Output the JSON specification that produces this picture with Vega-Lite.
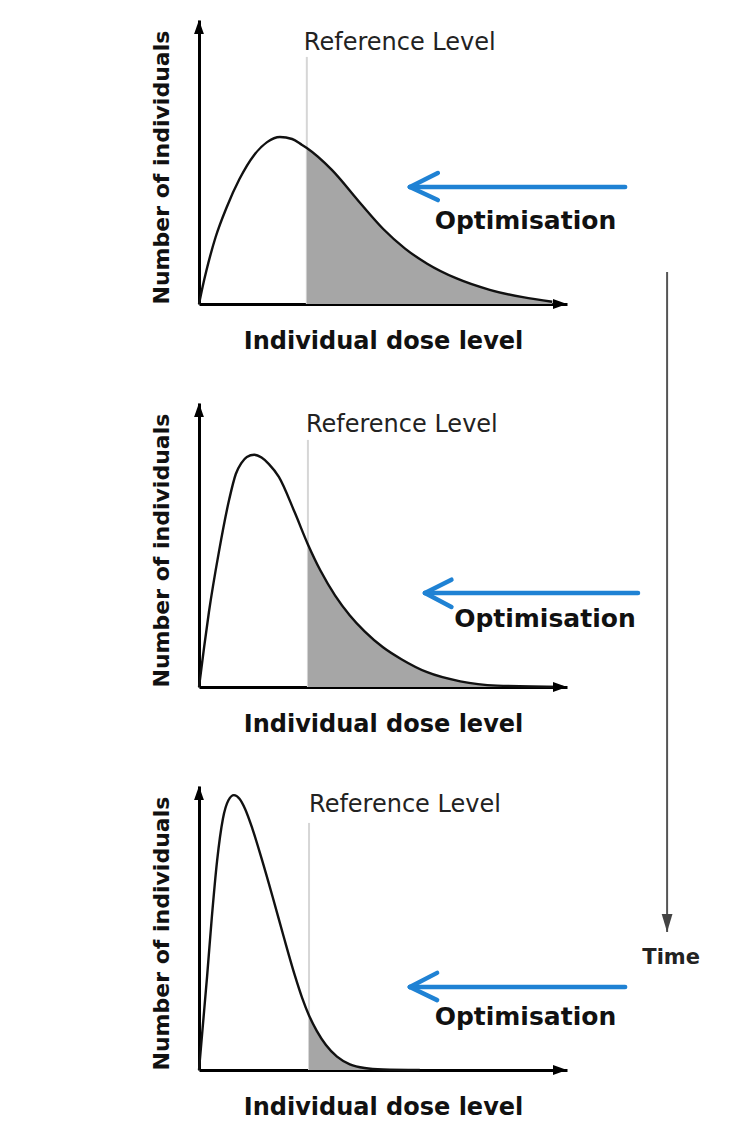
{
  "$schema": "https://vega.github.io/schema/vega-lite/v6.json",
  "autosize": {"type": "pad"},
  "padding": {"left": 150, "top": 20, "right": 38, "bottom": 0},
  "background": "#ffffff",
  "spacing": 99,
  "bounds": "flush",
  "config": {
    "view": {"stroke": null},
    "axis": {"ticks": false, "labels": false, "grid": false, "domainColor": "#000000", "domainWidth": 3, "titleColor": "#111111", "titleFont": "DejaVu Sans", "titleFontWeight": "bold"},
    "axisX": {"titleFontSize": 24, "titlePadding": 25},
    "axisY": {"titleFontSize": 22, "titlePadding": 26, "titleAnchor": "start"}
  },
  "datasets": {
    "curve1": [
      {"dose": 0, "count": 0}, {"dose": 0.1, "count": 0.62}, {"dose": 0.2, "count": 1.17}, {"dose": 0.45, "count": 2.35}, {"dose": 0.75, "count": 3.4},
      {"dose": 1.1, "count": 4.4}, {"dose": 1.5, "count": 5.25}, {"dose": 1.85, "count": 5.7}, {"dose": 2.2, "count": 5.88},
      {"dose": 2.53, "count": 5.81}, {"dose": 2.8, "count": 5.6}, {"dose": 2.93, "count": 5.49}, {"dose": 3.61, "count": 4.72},
      {"dose": 4.35, "count": 3.6}, {"dose": 5.0, "count": 2.65}, {"dose": 5.6, "count": 1.95}, {"dose": 6.2, "count": 1.42},
      {"dose": 7.0, "count": 0.9}, {"dose": 7.9, "count": 0.5}, {"dose": 8.8, "count": 0.24}, {"dose": 9.6, "count": 0.08}
    ],
    "curve2": [
      {"dose": 0, "count": 0}, {"dose": 0.14, "count": 1.41}, {"dose": 0.27, "count": 2.64}, {"dose": 0.54, "count": 4.75},
      {"dose": 0.82, "count": 6.6}, {"dose": 1.0, "count": 7.5}, {"dose": 1.15, "count": 7.88}, {"dose": 1.3, "count": 8.1},
      {"dose": 1.5, "count": 8.18}, {"dose": 1.7, "count": 8.08}, {"dose": 1.9, "count": 7.85}, {"dose": 2.17, "count": 7.4},
      {"dose": 2.6, "count": 6.15}, {"dose": 2.96, "count": 5.02},
      {"dose": 3.3, "count": 4.1}, {"dose": 3.7, "count": 3.22}, {"dose": 4.1, "count": 2.52}, {"dose": 4.5, "count": 1.96},
      {"dose": 5.0, "count": 1.4}, {"dose": 5.5, "count": 0.98}, {"dose": 6.2, "count": 0.52}, {"dose": 7.1, "count": 0.2},
      {"dose": 8.1, "count": 0.05}, {"dose": 9.9, "count": 0}
    ],
    "curve3": [
      {"dose": 0, "count": 0}, {"dose": 0.1, "count": 1.5}, {"dose": 0.22, "count": 3.3}, {"dose": 0.35, "count": 5.4},
      {"dose": 0.49, "count": 7.35}, {"dose": 0.65, "count": 8.85}, {"dose": 0.8, "count": 9.5}, {"dose": 0.95, "count": 9.68},
      {"dose": 1.1, "count": 9.55}, {"dose": 1.25, "count": 9.2}, {"dose": 1.45, "count": 8.5}, {"dose": 1.7, "count": 7.45},
      {"dose": 2.0, "count": 6.1}, {"dose": 2.3, "count": 4.7}, {"dose": 2.6, "count": 3.35}, {"dose": 2.8, "count": 2.55},
      {"dose": 2.99, "count": 1.92}, {"dose": 3.2, "count": 1.38}, {"dose": 3.45, "count": 0.88}, {"dose": 3.75, "count": 0.47},
      {"dose": 4.1, "count": 0.2}, {"dose": 4.5, "count": 0.07}, {"dose": 5.0, "count": 0.02}, {"dose": 6.0, "count": 0}
    ],
    "ref1": [{"ref": 2.93, "label": "Reference Level"}],
    "ref2": [{"ref": 2.96, "label": "Reference Level"}],
    "ref3": [{"ref": 2.99, "label": "Reference Level"}]
  },
  "vconcat": [
    {
      "width": 368, "height": 284,
      "layer": [
        {"data": {"name": "ref1"}, "mark": {"type": "rule", "color": "#d6d6d6", "strokeWidth": 2},
         "encoding": {"x": {"field": "ref", "type": "quantitative", "scale": {"domain": [0, 10]}},
                      "y": {"datum": 0, "type": "quantitative", "scale": {"domain": [0, 10]}}, "y2": {"datum": 8.7}}},
        {"data": {"name": "curve1"}, "transform": [{"filter": "datum.dose >= 2.93"}],
         "mark": {"type": "area", "interpolate": "monotone", "color": "#a6a6a6", "opacity": 1},
         "encoding": {"x": {"field": "dose", "type": "quantitative", "scale": {"domain": [0, 10]}},
                      "y": {"field": "count", "type": "quantitative", "scale": {"domain": [0, 10]}}}},
        {"data": {"name": "curve1"}, "mark": {"type": "line", "interpolate": "monotone", "color": "#111111", "strokeWidth": 2.4},
         "encoding": {"x": {"field": "dose", "type": "quantitative", "scale": {"domain": [0, 10]}, "title": "Individual dose level"},
                      "y": {"field": "count", "type": "quantitative", "scale": {"domain": [0, 10]}, "title": "Number of individuals"}}},
        {"data": {"name": "ref1"}, "mark": {"type": "text", "align": "left", "baseline": "middle", "dx": -3, "font": "DejaVu Sans", "fontSize": 24, "color": "#222222"},
         "encoding": {"x": {"field": "ref", "type": "quantitative", "scale": {"domain": [0, 10]}},
                      "y": {"datum": 9.19, "type": "quantitative", "scale": {"domain": [0, 10]}}, "text": {"field": "label"}}},
        {"data": {"values": [{}]}, "mark": {"type": "point", "shape": "M0,0L0.35,1L-0.35,1Z", "filled": true, "color": "#000000", "size": 784, "opacity": 1},
         "encoding": {"x": {"datum": 0, "type": "quantitative", "scale": {"domain": [0, 10]}}, "y": {"datum": 10, "type": "quantitative", "scale": {"domain": [0, 10]}}}},
        {"data": {"values": [{}]}, "mark": {"type": "point", "shape": "M0,0L-1,-0.35L-1,0.35Z", "filled": true, "color": "#000000", "size": 784, "opacity": 1},
         "encoding": {"x": {"datum": 10, "type": "quantitative", "scale": {"domain": [0, 10]}}, "y": {"datum": 0, "type": "quantitative", "scale": {"domain": [0, 10]}}}},
        {"data": {"values": [{}]}, "mark": {"type": "rule", "color": "#1f82d4", "strokeWidth": 4.5, "strokeCap": "round"},
         "encoding": {"x": {"datum": 5.73, "type": "quantitative", "scale": {"domain": [0, 10]}}, "x2": {"datum": 11.58},
                      "y": {"datum": 4.12, "type": "quantitative", "scale": {"domain": [0, 10]}}}},
        {"data": {"values": [{}]}, "mark": {"type": "rule", "color": "#1f82d4", "strokeWidth": 4.5, "strokeCap": "round"},
         "encoding": {"x": {"datum": 5.73, "type": "quantitative", "scale": {"domain": [0, 10]}}, "x2": {"datum": 6.49},
                      "y": {"datum": 4.12, "type": "quantitative", "scale": {"domain": [0, 10]}}, "y2": {"datum": 4.61}}},
        {"data": {"values": [{}]}, "mark": {"type": "rule", "color": "#1f82d4", "strokeWidth": 4.5, "strokeCap": "round"},
         "encoding": {"x": {"datum": 5.73, "type": "quantitative", "scale": {"domain": [0, 10]}}, "x2": {"datum": 6.49},
                      "y": {"datum": 4.12, "type": "quantitative", "scale": {"domain": [0, 10]}}, "y2": {"datum": 3.66}}},
        {"data": {"values": [{}]}, "mark": {"type": "text", "text": "Optimisation", "font": "DejaVu Sans", "fontWeight": "bold", "fontSize": 25, "color": "#111111", "align": "center", "baseline": "middle"},
         "encoding": {"x": {"datum": 8.87, "type": "quantitative", "scale": {"domain": [0, 10]}}, "y": {"datum": 2.92, "type": "quantitative", "scale": {"domain": [0, 10]}}}}
      ]
    },
    {
      "width": 368, "height": 284,
      "layer": [
        {"data": {"name": "ref2"}, "mark": {"type": "rule", "color": "#d6d6d6", "strokeWidth": 2},
         "encoding": {"x": {"field": "ref", "type": "quantitative", "scale": {"domain": [0, 10]}},
                      "y": {"datum": 0, "type": "quantitative", "scale": {"domain": [0, 10]}}, "y2": {"datum": 8.7}}},
        {"data": {"name": "curve2"}, "transform": [{"filter": "datum.dose >= 2.96"}],
         "mark": {"type": "area", "interpolate": "monotone", "color": "#a6a6a6", "opacity": 1},
         "encoding": {"x": {"field": "dose", "type": "quantitative", "scale": {"domain": [0, 10]}},
                      "y": {"field": "count", "type": "quantitative", "scale": {"domain": [0, 10]}}}},
        {"data": {"name": "curve2"}, "mark": {"type": "line", "interpolate": "monotone", "color": "#111111", "strokeWidth": 2.4},
         "encoding": {"x": {"field": "dose", "type": "quantitative", "scale": {"domain": [0, 10]}, "title": "Individual dose level"},
                      "y": {"field": "count", "type": "quantitative", "scale": {"domain": [0, 10]}, "title": "Number of individuals"}}},
        {"data": {"name": "ref2"}, "mark": {"type": "text", "align": "left", "baseline": "middle", "dx": -2, "font": "DejaVu Sans", "fontSize": 24, "color": "#222222"},
         "encoding": {"x": {"field": "ref", "type": "quantitative", "scale": {"domain": [0, 10]}},
                      "y": {"datum": 9.23, "type": "quantitative", "scale": {"domain": [0, 10]}}, "text": {"field": "label"}}},
        {"data": {"values": [{}]}, "mark": {"type": "point", "shape": "M0,0L0.35,1L-0.35,1Z", "filled": true, "color": "#000000", "size": 784, "opacity": 1},
         "encoding": {"x": {"datum": 0, "type": "quantitative", "scale": {"domain": [0, 10]}}, "y": {"datum": 10, "type": "quantitative", "scale": {"domain": [0, 10]}}}},
        {"data": {"values": [{}]}, "mark": {"type": "point", "shape": "M0,0L-1,-0.35L-1,0.35Z", "filled": true, "color": "#000000", "size": 784, "opacity": 1},
         "encoding": {"x": {"datum": 10, "type": "quantitative", "scale": {"domain": [0, 10]}}, "y": {"datum": 0, "type": "quantitative", "scale": {"domain": [0, 10]}}}},
        {"data": {"values": [{}]}, "mark": {"type": "rule", "color": "#1f82d4", "strokeWidth": 4.5, "strokeCap": "round"},
         "encoding": {"x": {"datum": 6.14, "type": "quantitative", "scale": {"domain": [0, 10]}}, "x2": {"datum": 11.93},
                      "y": {"datum": 3.31, "type": "quantitative", "scale": {"domain": [0, 10]}}}},
        {"data": {"values": [{}]}, "mark": {"type": "rule", "color": "#1f82d4", "strokeWidth": 4.5, "strokeCap": "round"},
         "encoding": {"x": {"datum": 6.14, "type": "quantitative", "scale": {"domain": [0, 10]}}, "x2": {"datum": 6.86},
                      "y": {"datum": 3.31, "type": "quantitative", "scale": {"domain": [0, 10]}}, "y2": {"datum": 3.78}}},
        {"data": {"values": [{}]}, "mark": {"type": "rule", "color": "#1f82d4", "strokeWidth": 4.5, "strokeCap": "round"},
         "encoding": {"x": {"datum": 6.14, "type": "quantitative", "scale": {"domain": [0, 10]}}, "x2": {"datum": 6.86},
                      "y": {"datum": 3.31, "type": "quantitative", "scale": {"domain": [0, 10]}}, "y2": {"datum": 2.82}}},
        {"data": {"values": [{}]}, "mark": {"type": "text", "text": "Optimisation", "font": "DejaVu Sans", "fontWeight": "bold", "fontSize": 25, "color": "#111111", "align": "center", "baseline": "middle"},
         "encoding": {"x": {"datum": 9.4, "type": "quantitative", "scale": {"domain": [0, 10]}}, "y": {"datum": 2.39, "type": "quantitative", "scale": {"domain": [0, 10]}}}}
      ]
    },
    {
      "width": 368, "height": 284,
      "layer": [
        {"data": {"name": "ref3"}, "mark": {"type": "rule", "color": "#d6d6d6", "strokeWidth": 2},
         "encoding": {"x": {"field": "ref", "type": "quantitative", "scale": {"domain": [0, 10]}},
                      "y": {"datum": 0, "type": "quantitative", "scale": {"domain": [0, 10]}}, "y2": {"datum": 8.7}}},
        {"data": {"name": "curve3"}, "transform": [{"filter": "datum.dose >= 2.99"}],
         "mark": {"type": "area", "interpolate": "monotone", "color": "#a6a6a6", "opacity": 1},
         "encoding": {"x": {"field": "dose", "type": "quantitative", "scale": {"domain": [0, 10]}},
                      "y": {"field": "count", "type": "quantitative", "scale": {"domain": [0, 10]}}}},
        {"data": {"name": "curve3"}, "mark": {"type": "line", "interpolate": "monotone", "color": "#111111", "strokeWidth": 2.4},
         "encoding": {"x": {"field": "dose", "type": "quantitative", "scale": {"domain": [0, 10]}, "title": "Individual dose level"},
                      "y": {"field": "count", "type": "quantitative", "scale": {"domain": [0, 10]}, "title": "Number of individuals"}}},
        {"data": {"name": "ref3"}, "mark": {"type": "text", "align": "left", "baseline": "middle", "dx": 0, "font": "DejaVu Sans", "fontSize": 24, "color": "#222222"},
         "encoding": {"x": {"field": "ref", "type": "quantitative", "scale": {"domain": [0, 10]}},
                      "y": {"datum": 9.33, "type": "quantitative", "scale": {"domain": [0, 10]}}, "text": {"field": "label"}}},
        {"data": {"values": [{}]}, "mark": {"type": "point", "shape": "M0,0L0.35,1L-0.35,1Z", "filled": true, "color": "#000000", "size": 784, "opacity": 1},
         "encoding": {"x": {"datum": 0, "type": "quantitative", "scale": {"domain": [0, 10]}}, "y": {"datum": 10, "type": "quantitative", "scale": {"domain": [0, 10]}}}},
        {"data": {"values": [{}]}, "mark": {"type": "point", "shape": "M0,0L-1,-0.35L-1,0.35Z", "filled": true, "color": "#000000", "size": 784, "opacity": 1},
         "encoding": {"x": {"datum": 10, "type": "quantitative", "scale": {"domain": [0, 10]}}, "y": {"datum": 0, "type": "quantitative", "scale": {"domain": [0, 10]}}}},
        {"data": {"values": [{}]}, "mark": {"type": "rule", "color": "#1f82d4", "strokeWidth": 4.5, "strokeCap": "round"},
         "encoding": {"x": {"datum": 5.73, "type": "quantitative", "scale": {"domain": [0, 10]}}, "x2": {"datum": 11.58},
                      "y": {"datum": 2.92, "type": "quantitative", "scale": {"domain": [0, 10]}}}},
        {"data": {"values": [{}]}, "mark": {"type": "rule", "color": "#1f82d4", "strokeWidth": 4.5, "strokeCap": "round"},
         "encoding": {"x": {"datum": 5.73, "type": "quantitative", "scale": {"domain": [0, 10]}}, "x2": {"datum": 6.47},
                      "y": {"datum": 2.92, "type": "quantitative", "scale": {"domain": [0, 10]}}, "y2": {"datum": 3.42}}},
        {"data": {"values": [{}]}, "mark": {"type": "rule", "color": "#1f82d4", "strokeWidth": 4.5, "strokeCap": "round"},
         "encoding": {"x": {"datum": 5.73, "type": "quantitative", "scale": {"domain": [0, 10]}}, "x2": {"datum": 6.47},
                      "y": {"datum": 2.92, "type": "quantitative", "scale": {"domain": [0, 10]}}, "y2": {"datum": 2.46}}},
        {"data": {"values": [{}]}, "mark": {"type": "text", "text": "Optimisation", "font": "DejaVu Sans", "fontWeight": "bold", "fontSize": 25, "color": "#111111", "align": "center", "baseline": "middle"},
         "encoding": {"x": {"datum": 8.87, "type": "quantitative", "scale": {"domain": [0, 10]}}, "y": {"datum": 1.87, "type": "quantitative", "scale": {"domain": [0, 10]}}}},
        {"data": {"values": [{}]}, "mark": {"type": "rule", "color": "#555555", "strokeWidth": 2},
         "encoding": {"x": {"datum": 12.72, "type": "quantitative", "scale": {"domain": [0, 10]}},
                      "y": {"datum": 28.1, "type": "quantitative", "scale": {"domain": [0, 10]}}, "y2": {"datum": 4.86}}},
        {"data": {"values": [{}]}, "mark": {"type": "point", "shape": "M0,0L-0.3,-1L0.3,-1Z", "filled": true, "color": "#444444", "size": 1296, "opacity": 1},
         "encoding": {"x": {"datum": 12.72, "type": "quantitative", "scale": {"domain": [0, 10]}}, "y": {"datum": 4.86, "type": "quantitative", "scale": {"domain": [0, 10]}}}},
        {"data": {"values": [{}]}, "mark": {"type": "text", "text": "Time", "font": "DejaVu Sans", "fontWeight": "bold", "fontSize": 21, "color": "#222222", "align": "center", "baseline": "middle"},
         "encoding": {"x": {"datum": 12.83, "type": "quantitative", "scale": {"domain": [0, 10]}}, "y": {"datum": 3.94, "type": "quantitative", "scale": {"domain": [0, 10]}}}}
      ]
    }
  ]
}
